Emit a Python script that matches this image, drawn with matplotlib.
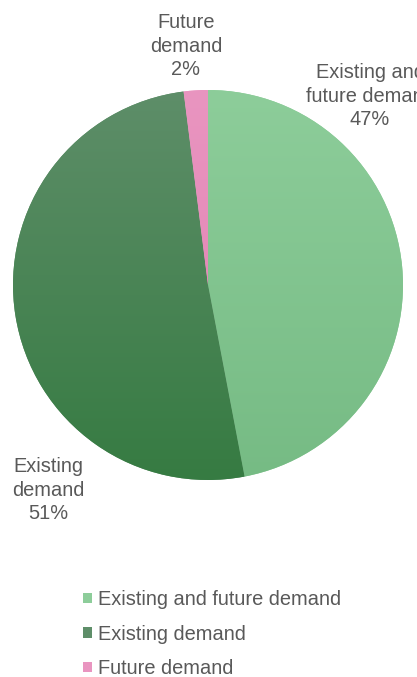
import numpy as np
import matplotlib.pyplot as plt
from matplotlib.colors import LinearSegmentedColormap

labels = ['Existing and future demand', 'Existing demand', 'Future demand']
shares = [47, 51, 2]
top_colors = ['#8dcd9a', '#5e8e69', '#e995c0']
bottom_colors = ['#76bb84', '#367b42', '#e07fb0']
text_grey = '#595959'

plt.rcParams['font.family'] = ['Liberation Sans', 'DejaVu Sans']

fig = plt.figure(figsize=(4.17, 6.77), dpi=100)
ax = fig.add_axes([13 / 417, 197 / 677, 390 / 417, 390 / 677])
ax.set_aspect('equal')

wedges, _ = ax.pie(shares, colors=top_colors, startangle=90, counterclock=False,
                   radius=1.0, wedgeprops=dict(linewidth=0))

# vertical shading inside each slice
grad = np.linspace(1, 0, 256).reshape(-1, 1)
for w, c0, c1 in zip(wedges, top_colors, bottom_colors):
    cmap = LinearSegmentedColormap.from_list('shade', [c1, c0])
    im = ax.imshow(grad, cmap=cmap, extent=(-1, 1, -1, 1), aspect='auto',
                   origin='upper', zorder=w.get_zorder() + 0.1)
    im.set_clip_path(w)

ax.set_xlim(-1, 1)
ax.set_ylim(-1, 1)
ax.axis('off')

# slice labels in figure pixels
label_pos = [(370, 96), (48, 490), (186, 46)]
for (px, py), lab, s in zip(label_pos, labels, shares):
    words = lab.split(' ')
    if len(words) > 2:
        txt = ' '.join(words[:2]) + '\n' + ' '.join(words[2:])
    else:
        txt = '\n'.join(words)
    fig.text(px / 417, 1 - py / 677, f'{txt}\n{s}%', ha='center', va='center',
             fontsize=14.4, color=text_grey, linespacing=1.29)

leg = fig.legend(wedges, labels, loc='upper left', bbox_to_anchor=(73 / 417, 1 - 580 / 677),
                 frameon=False, fontsize=14.4, handlelength=0.45, handleheight=0.45,
                 handletextpad=0.3, labelspacing=0.78, borderpad=0)
for t in leg.get_texts():
    t.set_color(text_grey)

fig.savefig('out.png', dpi=100)
